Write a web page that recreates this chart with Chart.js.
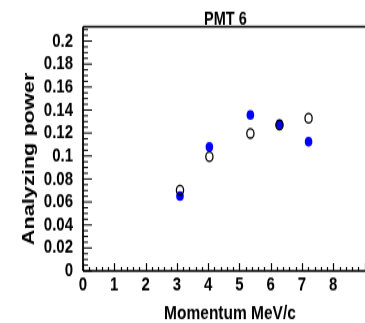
<!DOCTYPE html>
<html>
<head>
<meta charset="utf-8">
<script src="https://cdn.jsdelivr.net/npm/chart.js@4"></script>
<style>
  html, body { margin: 0; padding: 0; background: #fff; overflow: hidden; }
  #pmtChart { display: block; }
</style>
</head>
<body>
<!-- the source picture is stretched vertically, so the canvas is drawn short and scaled up -->
<canvas id="pmtChart" width="373" height="248" style="width:373px;height:323px"></canvas>
<script>
// Data
const momentum = [3.1, 4.04, 5.35, 6.28, 7.21];
const powerOpen = [0.0704, 0.0994, 0.1197, 0.127, 0.1328];
const powerFilled = [0.0652, 0.108, 0.1357, 0.1276, 0.1124];

const xTicks = [0, 1, 2, 3, 4, 5, 6, 7, 8];
const yTicks = [0, 0.02, 0.04, 0.06, 0.08, 0.1, 0.12, 0.14, 0.16, 0.18, 0.2];

const titleText = "PMT 6";
const xTitle = "Momentum MeV/c";
const yTitle = "Analyzing power";

const FONT = "'Liberation Sans', Arial, sans-serif";

// ROOT style frame: ticks inside, titles offset
const rootFrame = {
  id: 'rootFrame',
  afterDraw(chart) {
    const ctx = chart.ctx;
    const a = chart.chartArea;
    const x = chart.scales.x;
    const y = chart.scales.y;
    ctx.save();
    ctx.strokeStyle = '#000';

    // x ticks (major every 1, minor every 0.2)
    ctx.lineWidth = 1.2;
    for (let i = 0; i * 0.2 <= x.max; i++) {
      const px = Math.round(x.getPixelForValue(i * 0.2)) + 0.5;
      const len = i % 5 === 0 ? 6 : 3;
      ctx.beginPath();
      ctx.moveTo(px, a.bottom);
      ctx.lineTo(px, a.bottom - len);
      ctx.stroke();
    }
    // y ticks (major every 0.02, minor every 0.005)
    ctx.lineWidth = 1;
    for (let i = 0; i * 0.005 <= y.max; i++) {
      const py = y.getPixelForValue(i * 0.005);
      const len = i % 4 === 0 ? 9 : 5;
      ctx.beginPath();
      ctx.moveTo(a.left, py);
      ctx.lineTo(a.left + len, py);
      ctx.stroke();
    }

    // frame lines
    ctx.lineWidth = 1.6;
    ctx.beginPath();
    ctx.moveTo(a.left, a.top);
    ctx.lineTo(a.right, a.top);
    ctx.moveTo(a.left, a.bottom);
    ctx.lineTo(a.right, a.bottom);
    ctx.stroke();
    ctx.lineWidth = 1.8;
    ctx.beginPath();
    ctx.moveTo(a.left, a.top);
    ctx.lineTo(a.left, a.bottom);
    ctx.stroke();

    // titles
    ctx.fillStyle = '#000';
    ctx.textAlign = 'center';
    ctx.textBaseline = 'middle';
    ctx.font = "bold 14.5px " + FONT;
    ctx.fillText(titleText, (a.left + a.right) / 2, 14.6);
    ctx.font = "bold 15.5px " + FONT;
    ctx.fillText(xTitle, 230, 240.5);
    ctx.translate(29, 122);
    ctx.rotate(-Math.PI / 2);
    ctx.font = "bold 16.7px " + FONT;
    ctx.fillText(yTitle, 0, 0);
    ctx.restore();
  }
};

new Chart(document.getElementById('pmtChart'), {
  type: 'scatter',
  data: {
    datasets: [
      {
        label: 'open',
        data: momentum.map((m, i) => ({ x: m, y: powerOpen[i] })),
        pointStyle: 'circle',
        pointRadius: 3.6,
        pointBorderWidth: 1.3,
        pointBorderColor: '#000',
        pointBackgroundColor: 'rgba(0,0,0,0)'
      },
      {
        label: 'filled',
        data: momentum.map((m, i) => ({ x: m, y: powerFilled[i] })),
        pointStyle: 'circle',
        pointRadius: 3.8,
        pointBorderWidth: 0,
        pointBackgroundColor: '#0000ff'
      }
    ]
  },
  options: {
    responsive: false,
    animation: false,
    devicePixelRatio: 1,
    layout: { padding: { top: 20.5, right: 0, left: 0, bottom: 0 } },
    plugins: {
      legend: { display: false },
      tooltip: { enabled: false },
      title: { display: false }
    },
    scales: {
      x: {
        type: 'linear',
        min: 0,
        max: 9.1,
        grid: { display: false },
        border: { display: false },
        afterFit(scale) { scale.height = 40; },
        afterBuildTicks(scale) { scale.ticks = xTicks.map(v => ({ value: v })); },
        ticks: {
          padding: -6,
          color: '#000',
          maxRotation: 0,
          autoSkip: false,
          font: { family: FONT, size: 15, weight: 'bold' },
          callback: v => String(v)
        }
      },
      y: {
        type: 'linear',
        min: 0,
        max: 0.2125,
        grid: { display: false },
        border: { display: false },
        afterFit(scale) { scale.width = 83; },
        afterBuildTicks(scale) { scale.ticks = yTicks.map(v => ({ value: v })); },
        ticks: {
          padding: 2,
          color: '#000',
          autoSkip: false,
          font: { family: FONT, size: 15, weight: 'bold' },
          callback: v => String(+v.toFixed(3))
        }
      }
    }
  },
  plugins: [rootFrame]
});
</script>
</body>
</html>
